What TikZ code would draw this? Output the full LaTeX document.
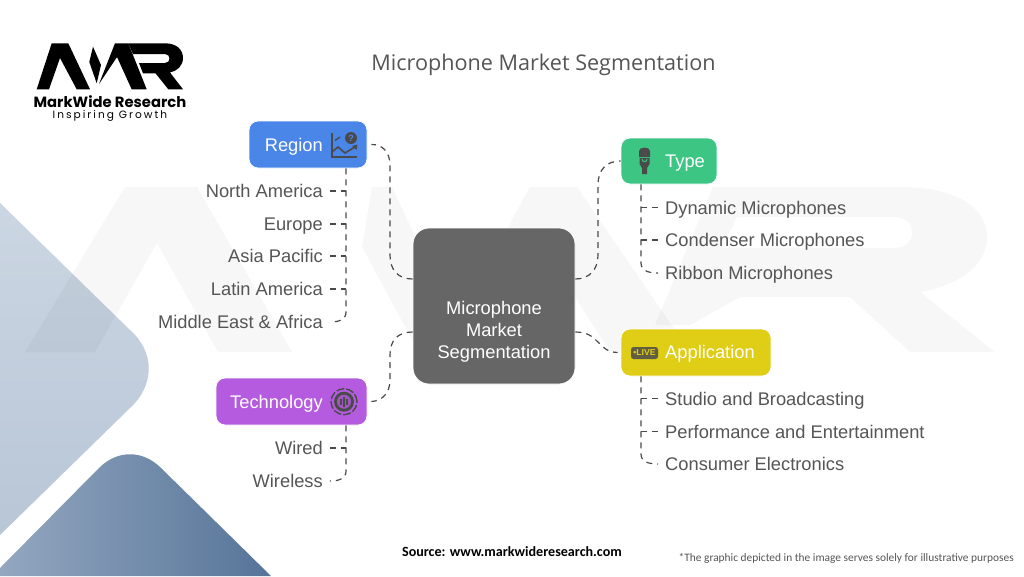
\documentclass[tikz,border=0pt]{standalone}
\usepackage{fontspec}
\setmainfont{Liberation Sans}
\newfontfamily\titlefont{Open Sans}
\newfontfamily\notefont{Carlito}
\newfontfamily\logofont{Poppins}
\newfontfamily\logospaced[LetterSpace=19]{Poppins}
\usetikzlibrary{calc}
\definecolor{txt}{HTML}{555555}
\definecolor{ink}{HTML}{4A4A4A}
\definecolor{regionc}{HTML}{4A86E8}
\definecolor{typec}{HTML}{3CC583}
\definecolor{appc}{HTML}{E0CD16}
\definecolor{techc}{HTML}{B45BE0}
\definecolor{centerc}{HTML}{666666}
\definecolor{paletop}{HTML}{CCD6E3}
\definecolor{palebot}{HTML}{B8C6D6}
\definecolor{deepl}{HTML}{93A7C0}
\definecolor{deepr}{HTML}{567498}
\tikzset{
  box/.style={draw=white,line width=0.8pt,rounded corners=9pt,inner sep=0pt},
  head/.style={text=white,font=\fontsize{18.3}{20}\selectfont,inner sep=0pt},
  leafl/.style={text=txt,font=\fontsize{18.3}{20}\selectfont,inner sep=0pt,anchor=base west},
  leafr/.style={text=txt,font=\fontsize{18.3}{20}\selectfont,inner sep=0pt,anchor=base east},
  conn/.style={draw=ink,line width=1.2pt,dash pattern=on 6pt off 5pt},
  stub/.style={conn,shorten <=7pt},
  tail/.style={conn,shorten >=7pt},
}
\begin{document}
\begin{tikzpicture}[x=1pt,y=-1pt]
\useasboundingbox (0,0) rectangle (1024,576);
\fill[white] (0,0) rectangle (1024,576);
% background shapes
\path[top color=paletop,bottom color=palebot,draw=none]
  (0,203) -- (130,330) .. controls (155,352) and (155,385) .. (130,408) -- (0,535) -- cycle;
\path[left color=deepl,right color=deepr,draw=none]
  (0,576) -- (0,568) -- (100,467) .. controls (118,450) and (142,450) .. (160,467) -- (271,576) -- cycle;
% watermark
\begin{scope}[fill=black,fill opacity=0.032]
\fill (25,352) -- (125,187) -- (197,187) -- (292,352) -- (218,352) -- (157,243) -- (95,352) -- cycle;
\fill (372,187) -- (392,187) -- (440,290) -- (415,345) -- (362,247) -- cycle;
\fill (440,352) -- (530,187) -- (577,187) -- (690,352) -- (610,352) -- (553,262) -- (505,352) -- cycle;
\fill[even odd rule] (713,187) -- (900,187) .. controls (960,187) and (987,210) .. (987,237) .. controls (987,265) and (960,285) .. (920,292) -- (995,352) -- (910,352) -- (850,297) -- (740,297) -- (690,325) -- (655,325) -- cycle
  (737,217) -- (895,217) .. controls (918,217) and (918,248) .. (895,248) -- (722,248) -- cycle;
\end{scope}
% logo
\fill[black] (36.7,89.3) -- (51.7,43.3) -- (68.3,43.3) -- (90,89.3) -- (76.7,89.3) -- (60,58) -- (49,89.3) -- cycle;
\fill[black] (93,46.7) -- (89.3,62) -- (96.7,83.3) -- (101,65) -- cycle;
\fill[black] (99,84) -- (115,43.3) -- (128.3,43.3) -- (146.7,89.3) -- (131.7,89.3) -- (117,57) -- cycle;
\fill[black] (128.3,43.3) -- (165,43.3) .. controls (177,43.3) and (183,50) .. (183,58) .. controls (183,66) and (177,71) .. (170,72.5) -- (183,89.3) -- (168.3,89.3) -- (155.5,73.3) -- (143,73.3) -- (139,63) -- (165,63) .. controls (171,63) and (171,54) .. (165,54) -- (133,54) -- cycle;
\node[inner sep=0pt,anchor=base,font=\logofont\bfseries\fontsize{14.8}{16}\selectfont] (logoname) at (110,107) {MarkWide Research};
\node[inner sep=0pt,anchor=base,font=\logospaced\fontsize{10.6}{12}\selectfont] (logotag) at (110,118) {Inspiring Growth};
% title
\node[inner sep=0pt,text=txt,font=\titlefont\fontsize{21.6}{24}\selectfont] (title) at (543.5,65) {Microphone Market Segmentation};
% boxes
\node[box,fill=centerc,minimum width=162pt,minimum height=156pt,rounded corners=16pt] (center) at (494,306) {};
\node[inner sep=0pt,align=center,text=white,font=\fontsize{18.3}{22}\selectfont] (centerlabel) at (494,332) {Microphone\\Market\\Segmentation};
\node[box,fill=regionc,minimum width=118pt,minimum height=47pt] (region) at (308,144.5) {};
\node[box,fill=typec,minimum width=96pt,minimum height=46pt] (type) at (669,161) {};
\node[box,fill=appc,minimum width=150pt,minimum height=47pt] (app) at (696,352.5) {};
\node[box,fill=techc,minimum width=151pt,minimum height=47pt] (tech) at (291.5,401.5) {};
\node[head,anchor=base east] (regionlabel) at (323,151) {Region};
\node[head,anchor=base west] (typelabel) at (665,167.5) {Type};
\node[head,anchor=base west] (applabel) at (665,358.5) {Application};
\node[head,anchor=base east] (techlabel) at (323,408) {Technology};
% leaves
\node[leafr] (r1) at (323,197.5) {North America};
\node[leafr] (r2) at (323,230.5) {Europe};
\node[leafr] (r3) at (323,262.5) {Asia Pacific};
\node[leafr] (r4) at (323,295.5) {Latin America};
\node[leafr] (r5) at (323,328.5) {Middle East \& Africa};
\node[leafl] (t1) at (665,214) {Dynamic Microphones};
\node[leafl] (t2) at (665,246.5) {Condenser Microphones};
\node[leafl] (t3) at (665,279.5) {Ribbon Microphones};
\node[leafl] (a1) at (665,405) {Studio and Broadcasting};
\node[leafl] (a2) at (665,438) {Performance and Entertainment};
\node[leafl] (a3) at (665,470.5) {Consumer Electronics};
\node[leafr] (w1) at (323,454.5) {Wired};
\node[leafr] (w2) at (323,487.5) {Wireless};
% trunks
\coordinate (rt) at (346,168);
\coordinate (tt) at (641,184);
\coordinate (at) at (641,376);
\coordinate (wt) at (346,425);
% center connectors
\draw[conn] ([yshift=27pt]center.west) .. controls (398,279) and (390,270) .. (390,255) -- (390,165) .. controls (390,152) and (382,144) .. ([xshift=4pt]region.east);
\draw[conn] ([yshift=27pt]center.east) .. controls (589,279) and (598,270) .. (598,255) -- (598,185) .. controls (598,170) and (606,161) .. (type.west);
\draw[conn] ([yshift=-26pt]center.west) .. controls (398,332) and (390,340) .. (390,355) -- (390,380) .. controls (390,393) and (382,401) .. ([xshift=4pt]tech.east);
\draw[conn] ([yshift=-26pt]center.east) .. controls (600,332) and (597,352) .. ([xshift=-3pt]app.west);
% branches
\draw[tail] (region.south -| rt) -- (346,312) .. controls (346,319) and (340,322) .. (r5.east |- 0,322);
\foreach \n/\y in {r1/191,r2/224,r3/256,r4/289} \draw[stub] (\n.east |- 0,\y) -- (rt |- 0,\y);
\draw[tail] (type.south -| tt) -- (641,263) .. controls (641,270) and (647,273) .. (t3.west |- 0,273);
\foreach \n/\y in {t1/207.5,t2/240} \draw[stub] (\n.west |- 0,\y) -- (tt |- 0,\y);
\draw[tail] (app.south -| at) -- (641,454) .. controls (641,461) and (647,464) .. (a3.west |- 0,464);
\foreach \n/\y in {a1/398.5,a2/431.5} \draw[stub] (\n.west |- 0,\y) -- (at |- 0,\y);
\draw[tail] (tech.south -| wt) -- (346,471) .. controls (346,478) and (340,481) .. (w2.east |- 0,481);
\draw[stub] (w1.east |- 0,448) -- (wt |- 0,448);
% region icon
\draw[ink,line width=1.6pt] (332,133) -- (332,157) -- (357,157);
\draw[ink,line width=1.6pt] (332,152) -- (338,147) -- (345,153) -- (355,147);
\fill[ink] (357.5,144.5) -- (352,146) -- (356.5,150) -- cycle;
\draw[ink,line width=1.4pt] (335,140.5) -- (340,137);
\fill[ink] (351,138) circle (6pt);
\node[inner sep=0pt,text=regionc,font=\bfseries\fontsize{9}{9}\selectfont] (qmark) at (351,138) {?};
% mic icon
\fill[ink] (639,157) -- (639,151) .. controls (639,146.5) and (650,146.5) .. (650,151) -- (650,157) -- cycle;
\fill[ink] (639.5,158) -- (649.5,158) -- (649.5,164) -- (647,168) -- (647,174) -- (642,174) -- (642,168) -- (639.5,164) -- cycle;
\draw[typec,line width=1pt] (642,159) .. controls (642,162.5) and (647,162.5) .. (647,159);
% live icon
\fill[ink!85!appc,rounded corners=2.5pt] (631,347) rectangle (658,359);
\node[inner sep=0pt,text=appc,font=\bfseries\fontsize{8.6}{9}\selectfont] (livelabel) at (644.5,353) {•LIVE};
% tech icon
\draw[ink,line width=1.4pt,dash pattern=on 8pt off 2pt] (344,401.7) circle (13pt);
\fill[ink] (344,401.7) circle (10pt);
\fill[techc!80!ink] (344,401.7) circle (7pt);
\foreach \dx/\h in {-3/3,0/5,3/3} \draw[ink,line width=1.5pt] (344+\dx,401.7-\h) -- (344+\dx,401.7+\h);
% footer
\node[inner sep=0pt,text=black,font=\notefont\bfseries\fontsize{14.1}{16}\selectfont] (source) at (512,551.5) {Source: www.markwideresearch.com};
\node[inner sep=0pt,text=txt,anchor=east,font=\notefont\fontsize{11.4}{13}\selectfont] (note) at (1014,558) {*The graphic depicted in the image serves solely for illustrative purposes};
\end{tikzpicture}
\end{document}
